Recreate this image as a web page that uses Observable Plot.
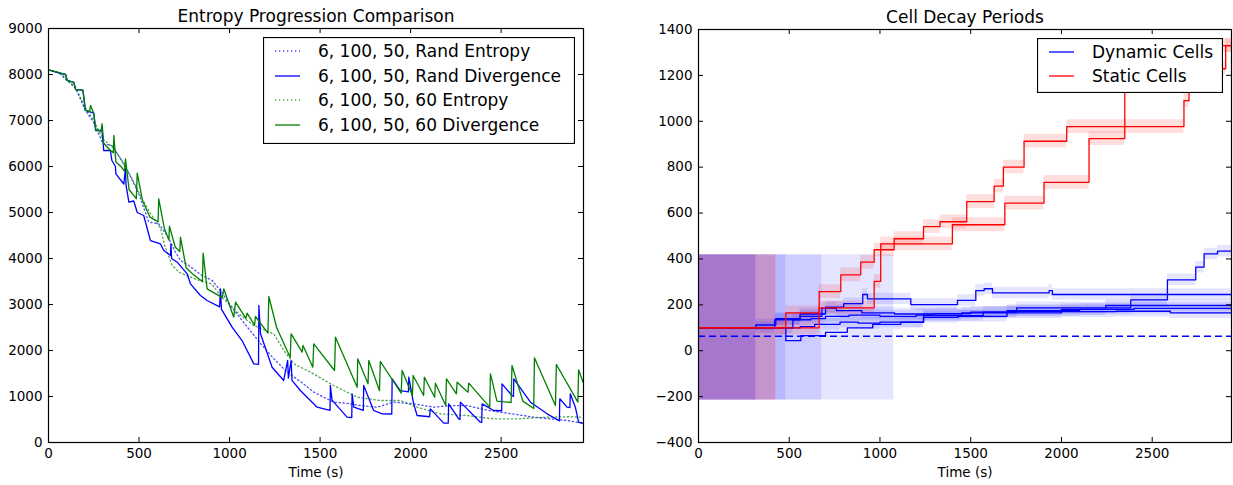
<!DOCTYPE html>
<html><head><meta charset="utf-8">
<script src="https://cdn.jsdelivr.net/npm/d3@7"></script>
<script src="https://cdn.jsdelivr.net/npm/@observablehq/plot@0.6"></script>
<style>
body{margin:0;background:#fff;font-family:"DejaVu Sans",sans-serif;}
#wrap{position:relative;width:1233px;height:485px;overflow:hidden;background:#fff;}
#wrap > svg{position:absolute;top:0;}
</style></head><body><div id="wrap"></div><script>
// ---------- Left chart data: [time (s), value] ----------
const leftXTicks = [0, 500, 1000, 1500, 2000, 2500];
const leftYTicks = [0, 1000, 2000, 3000, 4000, 5000, 6000, 7000, 8000, 9000];

const randEntropy = [[0,8100],[60,8030],[100,7880],[150,7700],[200,7250],[250,6950],[300,6500],[352,6450],[404,6130],[450,5800],[499,5406],[554,4790],[609,4754],[655,4500],[700,4150],[729,3957],[775,3848],[840,3650],[904,3522],[960,3250],[1005,2978],[1100,2500],[1180,2109],[1250,1800],[1318,1528],[1400,1300],[1465,1094],[1575,877],[1650,850],[1722,804],[1815,768],[1907,877],[2017,841],[2128,768],[2220,800],[2312,804],[2400,720],[2496,659],[2600,600],[2680,551],[2780,510],[2864,478],[2950,420]];

const randDivergence = [[0,8100],[60,8030],[95,8000],[103,7870],[140,7830],[150,7670],[190,7660],[204,7220],[250,7160],[260,6783],[296,6783],[305,6348],[342,6348],[350,6130],[370,6000],[372,5840],[416,5620],[425,5950],[428,5600],[444,5224],[471,5250],[490,5000],[526,4935],[563,4391],[618,4319],[637,4174],[674,4065],[676,4319],[680,4000],[711,3920],[766,3667],[784,3450],[839,3196],[876,3087],[945,2950],[950,3341],[955,2900],[1014,2507],[1069,2217],[1134,1710],[1160,1700],[1162,2978],[1171,2363],[1235,1637],[1299,1348],[1321,1783],[1325,1400],[1340,1783],[1345,1350],[1391,1130],[1484,768],[1555,700],[1557,1239],[1566,920],[1649,551],[1675,540],[1677,1058],[1686,768],[1739,700],[1741,1239],[1796,696],[1843,623],[1896,620],[1898,1384],[1943,1130],[1988,1100],[1990,1420],[2017,841],[2036,587],[2105,560],[2109,732],[2183,420],[2208,420],[2210,841],[2266,514],[2273,500],[2275,877],[2385,442],[2393,440],[2395,841],[2459,696],[2503,690],[2505,1275],[2560,1022],[2568,1000],[2570,1384],[2662,877],[2754,623],[2818,478],[2822,470],[2824,950],[2864,768],[2880,760],[2882,1058],[2910,768],[2928,442],[2950,420]];

const entropy60 = [[0,8100],[60,8040],[100,7900],[150,7720],[200,7300],[250,7000],[300,6600],[360,6400],[410,6100],[460,5750],[510,5350],[560,5000],[620,4650],[640,4300],[683,3850],[720,3703],[784,3594],[850,3500],[900,3450],[960,3150],[1050,2800],[1134,2543],[1244,2363],[1300,2000],[1355,1710],[1447,1528],[1575,1239],[1705,985],[1833,913],[1943,913],[2036,768],[2164,623],[2312,587],[2459,514],[2588,514],[2700,540],[2772,551],[2870,560],[2950,551]];

const divergence60 = [[0,8100],[60,8040],[95,8000],[103,7870],[140,7830],[150,7670],[190,7660],[204,7220],[228,7200],[232,7330],[250,7150],[262,6790],[290,6770],[296,6930],[305,6500],[340,6360],[358,6300],[361,6674],[372,6100],[400,6000],[420,5900],[425,6167],[445,5500],[485,5300],[490,5855],[520,5250],[560,4900],[605,4800],[609,5297],[640,4650],[665,4400],[668,4703],[700,4250],[725,4150],[729,4464],[760,3800],[800,3650],[850,3500],[854,4116],[876,3341],[960,3150],[968,3341],[1023,2724],[1033,3050],[1090,2700],[1097,2811],[1138,2550],[1143,2739],[1212,2380],[1217,3174],[1260,2500],[1335,1850],[1340,2363],[1401,1964],[1406,2109],[1460,1637],[1465,2145],[1580,1565],[1585,2290],[1705,1202],[1708,1819],[1765,1275],[1769,1783],[1828,1130],[1833,1761],[1948,1072],[1953,1565],[2010,1022],[2014,1457],[2072,1022],[2076,1420],[2133,985],[2137,1290],[2194,804],[2198,1384],[2253,1058],[2257,1312],[2317,1094],[2321,1290],[2437,768],[2441,1493],[2477,900],[2555,870],[2560,1674],[2620,900],[2680,740],[2684,1841],[2800,804],[2805,1696],[2924,877],[2928,1580],[2952,1312]];

// ---------- Right chart data: step change points [time (s), period] ----------
const rightXTicks = [0, 500, 1000, 1500, 2000, 2500];
const rightYTicks = [-400, -200, 0, 200, 400, 600, 800, 1000, 1200, 1400];

const dynamic1 = [[0,100],[420,135],[560,160],[700,190],[800,205],[905,245],[931,226],[1170,201],[1427,219],[1528,262],[1574,270],[1620,252],[1932,262],[1950,245],[2937,245]];
const dynamic2 = [[0,100],[316,112],[426,140],[560,150],[680,185],[760,175],[900,165],[1080,160],[1300,162],[1500,168],[1700,172],[2000,180],[2244,197],[2937,197]];
const dynamic3 = [[0,100],[470,100],[520,135],[620,140],[700,150],[830,155],[1000,150],[1200,155],[1450,165],[1700,175],[2100,180],[2400,185],[2937,180]];
const dynamic4 = [[0,100],[560,105],[640,115],[780,125],[880,120],[1000,125],[1240,145],[1430,150],[1700,165],[2000,170],[2300,172],[2600,165],[2937,158]];
const dynamic5 = [[0,100],[481,44],[564,66],[700,80],[820,100],[960,115],[1115,124],[1240,153],[1569,168],[1753,187],[2382,222],[2584,309],[2740,364],[2786,422],[2860,434],[2937,434]];
const static1 = [[0,100],[481,165],[665,258],[784,331],[894,386],[968,440],[1078,488],[1240,541],[1331,562],[1478,650],[1629,717],[1680,800],[1794,913],[2029,977],[2675,1090],[2703,1229],[2905,1330],[2937,1330]];
const static2 = [[0,100],[665,187],[968,302],[1004,466],[1399,549],[1688,643],[1904,734],[2152,924],[2349,1330],[2937,1330]];

const dynamicBaseline = 63;
const dynamicBoxEnd = [316, 316, 481, 679, 1076];
const staticBoxEnd = [426, 426];
const boxLow = -215, boxHigh = 418;
const dynamicBandHalf = 25, staticBandHalf = 30;

// ---------- helpers ----------
const FONT = "DejaVu Sans";
const fmt = d3.format("d");
const BLUE = "#0000ff", GREEN = "#008000", RED = "#ff0000";

function inwardTicks(xt, yt, pw, ph, len) {
  return [
    Plot.ruleX(xt, {insetTop: ph - len, stroke: "black"}),
    Plot.ruleX(xt, {insetBottom: ph - len, stroke: "black"}),
    Plot.ruleY(yt, {insetRight: pw - len, stroke: "black"}),
    Plot.ruleY(yt, {insetLeft: pw - len, stroke: "black"})
  ];
}
const X = d => d[0], Y = d => d[1];
// band of a step series starting where its start-up box ends
function bandFrom(series, start) {
  let v0 = series[0][1];
  for (const [t, v] of series) if (t <= start) v0 = v;
  return [[start, v0], ...series.filter(([t]) => t > start)];
}

// ---------- Left plot ----------
const L = {w: 616, ml: 48, mr: 33, mt: 28, mb: 43};
const left = Plot.plot({
  width: L.w, height: 485, marginLeft: L.ml, marginRight: L.mr, marginTop: L.mt, marginBottom: L.mb,
  style: {fontFamily: FONT, fontSize: "13.5px", color: "black", background: "transparent", overflow: "visible"},
  x: {domain: [0, 2955]},
  y: {domain: [0, 9000]},
  marks: [
    Plot.axisX(leftXTicks, {tickSize: 0, tickPadding: 6, tickFormat: fmt, label: null}),
    Plot.axisY(leftYTicks, {tickSize: 0, tickPadding: 6, tickFormat: fmt, label: null}),
    Plot.line(randEntropy, {x: X, y: Y, stroke: BLUE, strokeOpacity: 0.7, strokeWidth: 1.3, strokeDasharray: "1.3,2.7", clip: true}),
    Plot.line(entropy60, {x: X, y: Y, stroke: GREEN, strokeOpacity: 0.7, strokeWidth: 1.3, strokeDasharray: "1.3,2.7", clip: true}),
    Plot.line(randDivergence, {x: X, y: Y, stroke: BLUE, strokeWidth: 1.3, clip: true}),
    Plot.line(divergence60, {x: X, y: Y, stroke: GREEN, strokeWidth: 1.3, clip: true}),
    Plot.frame({stroke: "black", strokeWidth: 1.2}),
    ...inwardTicks(leftXTicks, leftYTicks, L.w - L.ml - L.mr, 485 - L.mt - L.mb, 5),
    Plot.text(["Entropy Progression Comparison"], {frameAnchor: "top", lineAnchor: "middle", dy: -12, fontSize: 17, fill: "black"}),
    Plot.text(["Time (s)"], {frameAnchor: "bottom", lineAnchor: "middle", dy: 30, fontSize: 13.5, fill: "black"})
  ]
});
left.style.left = "0px";

// ---------- Right plot ----------
const R = {w: 617, ml: 82, mr: 2, mt: 29, mb: 43};
const dynamicSeries = [dynamic1, dynamic2, dynamic3, dynamic4, dynamic5];
const staticSeries = [static1, static2];
const boxes = [
  ...dynamicBoxEnd.map(e => ({x2: e, c: BLUE})),
  ...staticBoxEnd.map(e => ({x2: e, c: RED}))
];
const right = Plot.plot({
  width: R.w, height: 485, marginLeft: R.ml, marginRight: R.mr, marginTop: R.mt, marginBottom: R.mb,
  style: {fontFamily: FONT, fontSize: "13.5px", color: "black", background: "transparent", overflow: "visible"},
  x: {domain: [0, 2937]},
  y: {domain: [-400, 1400]},
  marks: [
    Plot.axisX(rightXTicks, {tickSize: 0, tickPadding: 6, tickFormat: fmt, label: null}),
    Plot.axisY(rightYTicks, {tickSize: 0, tickPadding: 6, tickFormat: fmt, label: null}),
    Plot.rect(boxes, {x1: 0, x2: "x2", y1: boxLow, y2: boxHigh, fill: d => d.c, fillOpacity: 0.1}),
    ...dynamicSeries.map((s, i) => Plot.areaY(bandFrom(s, dynamicBoxEnd[i]), {x: X, y1: d => d[1] - dynamicBandHalf, y2: d => d[1] + dynamicBandHalf, curve: "step-after", fill: BLUE, fillOpacity: 0.1, clip: true})),
    ...staticSeries.map((s, i) => Plot.areaY(bandFrom(s, staticBoxEnd[i]), {x: X, y1: d => d[1] - staticBandHalf, y2: d => d[1] + staticBandHalf, curve: "step-after", fill: RED, fillOpacity: 0.13, clip: true})),
    Plot.ruleY([dynamicBaseline], {stroke: BLUE, strokeWidth: 1.4, strokeDasharray: "7,4"}),
    ...dynamicSeries.map(s => Plot.line(s, {x: X, y: Y, curve: "step-after", stroke: BLUE, strokeWidth: 1.3, clip: true})),
    ...staticSeries.map(s => Plot.line(s, {x: X, y: Y, curve: "step-after", stroke: RED, strokeWidth: 1.3, clip: true})),
    Plot.frame({stroke: "black", strokeWidth: 1.2}),
    ...inwardTicks(rightXTicks, rightYTicks, R.w - R.ml - R.mr, 485 - R.mt - R.mb, 5),
    Plot.text(["Cell Decay Periods"], {frameAnchor: "top", lineAnchor: "middle", dy: -12, fontSize: 17, fill: "black"}),
    Plot.text(["Time (s)"], {frameAnchor: "bottom", lineAnchor: "middle", dy: 30, fontSize: 13.5, fill: "black"})
  ]
});
right.style.left = "616px";

const wrap = document.getElementById("wrap");
wrap.appendChild(left);
wrap.appendChild(right);

// ---------- Legends ----------
function legend(x, y, w, h, items) {
  const svg = d3.select(wrap).append("svg")
    .attr("width", w).attr("height", h)
    .style("position", "absolute").style("left", x + "px").style("top", y + "px");
  svg.append("rect").attr("x", 0.5).attr("y", 0.5).attr("width", w - 1).attr("height", h - 1)
    .attr("fill", "white").attr("stroke", "black").attr("stroke-width", 1.2);
  items.forEach(it => {
    const cy = it.y;
    svg.append("line").attr("x1", 12).attr("x2", 37).attr("y1", cy).attr("y2", cy)
      .attr("stroke", it.color).attr("stroke-width", 1.3)
      .attr("stroke-opacity", it.dash ? 0.7 : 1)
      .attr("stroke-dasharray", it.dash ? "1.3,2.7" : null);
    svg.append("text").attr("x", 55).attr("y", cy).attr("dy", "0.35em")
      .attr("font-family", FONT).attr("font-size", 17).attr("fill", "black").text(it.label);
  });
}
legend(263, 37, 312, 107, [
  {label: "6, 100, 50, Rand Entropy", color: BLUE, dash: true, y: 14},
  {label: "6, 100, 50, Rand Divergence", color: BLUE, dash: false, y: 39},
  {label: "6, 100, 50, 60 Entropy", color: GREEN, dash: true, y: 63},
  {label: "6, 100, 50, 60 Divergence", color: GREEN, dash: false, y: 88}
]);
legend(1037, 38, 186, 55, [
  {label: "Dynamic Cells", color: BLUE, dash: false, y: 14},
  {label: "Static Cells", color: RED, dash: false, y: 38}
]);
</script></body></html>
